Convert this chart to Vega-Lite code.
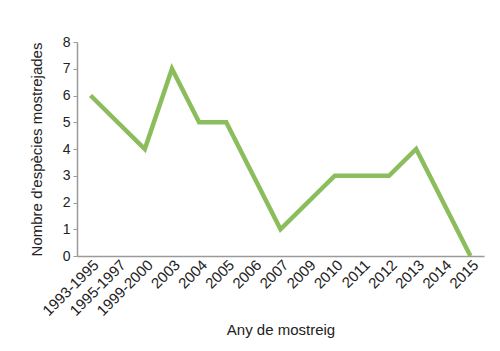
{
  "$schema": "https://vega.github.io/schema/vega-lite/v6.json",
  "width": 407,
  "height": 214,
  "autosize": "none",
  "padding": {"left": 77, "top": 42, "right": 16, "bottom": 95},
  "background": "white",
  "config": {
    "view": {"stroke": null},
    "font": "Liberation Sans",
    "axis": {
      "domainColor": "#9a9a9a",
      "domainWidth": 1.5,
      "tickColor": "#9a9a9a",
      "labelColor": "#222222",
      "titleColor": "#222222",
      "labelFont": "Liberation Sans",
      "titleFont": "Liberation Sans",
      "titleFontWeight": "normal",
      "grid": false
    }
  },
  "data": {
    "values": [
      {"periode": "1993-1995", "especies": 6},
      {"periode": "1999-2000", "especies": 4},
      {"periode": "2003", "especies": 7},
      {"periode": "2004", "especies": 5},
      {"periode": "2005", "especies": 5},
      {"periode": "2007", "especies": 1},
      {"periode": "2010", "especies": 3},
      {"periode": "2012", "especies": 3},
      {"periode": "2013", "especies": 4},
      {"periode": "2015", "especies": 0}
    ]
  },
  "mark": {"type": "line", "color": "#8cbd5c", "strokeWidth": 4.5, "strokeJoin": "miter", "strokeCap": "butt"},
  "encoding": {
    "x": {
      "field": "periode",
      "type": "ordinal",
      "sort": null,
      "scale": {
        "domain": ["1993-1995", "1995-1997", "1999-2000", "2003", "2004", "2005", "2006", "2007", "2009", "2010", "2011", "2012", "2013", "2014", "2015"],
        "padding": 0.5
      },
      "axis": {
        "title": "Any de mostreig",
        "titleFontSize": 15,
        "titlePadding": 4,
        "labelAngle": -45,
        "labelFontSize": 15,
        "labelPadding": 1,
        "ticks": false
      }
    },
    "y": {
      "field": "especies",
      "type": "quantitative",
      "scale": {"domain": [0, 8]},
      "axis": {
        "title": "Nombre d'espècies mostrejades",
        "titleFontSize": 15,
        "titlePadding": 18,
        "values": [0, 1, 2, 3, 4, 5, 6, 7, 8],
        "labelFontSize": 14,
        "labelPadding": 3,
        "tickSize": 4
      }
    }
  }
}
